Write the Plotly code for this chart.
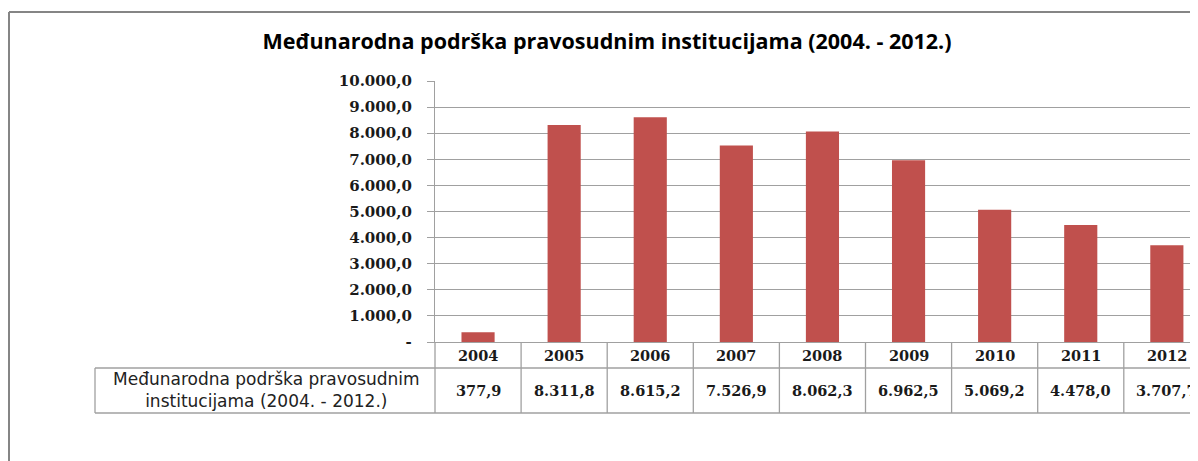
import plotly.graph_objects as go

years = ["2004", "2005", "2006", "2007", "2008", "2009", "2010", "2011", "2012"]
values = [377.9, 8311.8, 8615.2, 7526.9, 8062.3, 6962.5, 5069.2, 4478.0, 3707.7]
tick_vals = [0, 1000, 2000, 3000, 4000, 5000, 6000, 7000, 8000, 9000, 10000]
tick_text = ["-", "1.000,0", "2.000,0", "3.000,0", "4.000,0", "5.000,0",
             "6.000,0", "7.000,0", "8.000,0", "9.000,0", "10.000,0"]
title_text = "Međunarodna podrška pravosudnim institucijama (2004. - 2012.)"
series_label = "Međunarodna podrška pravosudnim<br>institucijama (2004. - 2012.)"


def hr_fmt(v):
    s = f"{v:,.1f}"
    return s.replace(",", "X").replace(".", ",").replace("X", ".")


# page body has an 8px margin: the figure starts at (8, 8) in the window
OFF = 8
W, H = 1198 - OFF, 461 - OFF
L = 435 - OFF          # plot left (window px 435)
T = 81 - OFF           # plot top  (window px 81)
Y0 = 342 - OFF         # zero line (window px 342)
B = H - Y0
PW = W - L
PH = Y0 - T


def px(x):
    """window pixel x -> paper x"""
    return (x - OFF - L) / PW


def py(y):
    """window pixel y -> paper y"""
    return (Y0 - (y - OFF)) / PH


GRID = "#A0A0A0"
NUMFONT = dict(family="DejaVu Serif", size=14.5, color="#1a1a1a", weight="bold")

fig = go.Figure()
fig.add_trace(go.Bar(x=list(range(len(years))), y=values,
                     marker=dict(color="#C0504D", line=dict(width=0)),
                     showlegend=False, hoverinfo="skip"))

shapes = []
# outer border
shapes.append(dict(type="line", xref="paper", yref="paper", x0=px(9), x1=px(1210),
                   y0=py(12), y1=py(12), line=dict(color="#858585", width=2)))
shapes.append(dict(type="line", xref="paper", yref="paper", x0=px(9), x1=px(9),
                   y0=py(12), y1=py(470), line=dict(color="#858585", width=2)))
# table horizontal lines
for yy in (368, 413):
    shapes.append(dict(type="line", xref="paper", yref="paper", x0=px(95), x1=1.02,
                       y0=py(yy), y1=py(yy), line=dict(color=GRID, width=1.3)))
# label cell left edge
shapes.append(dict(type="line", xref="paper", yref="paper", x0=px(95), x1=px(95),
                   y0=py(368), y1=py(413), line=dict(color=GRID, width=1.3)))
# y-axis extension down through table
shapes.append(dict(type="line", xref="paper", yref="paper", x0=0, x1=0,
                   y0=0, y1=py(413), line=dict(color=GRID, width=1.3)))
# column boundaries
for i in range(len(years)):
    shapes.append(dict(type="line", xref="x", yref="paper", x0=i + 0.5, x1=i + 0.5,
                       y0=0, y1=py(413), line=dict(color=GRID, width=1.3)))

annotations = []
for i, (yr, v) in enumerate(zip(years, values)):
    annotations.append(dict(x=i, xref="x", y=py(355), yref="paper", text=yr,
                            showarrow=False, font=NUMFONT, xanchor="center", yanchor="middle"))
    annotations.append(dict(x=i, xref="x", y=py(390), yref="paper", text=hr_fmt(v),
                            showarrow=False, font=NUMFONT, xanchor="center", yanchor="middle"))
annotations.append(dict(x=px(266), xref="paper", y=py(390), yref="paper", text=series_label,
                        showarrow=False, xanchor="center", yanchor="middle",
                        font=dict(family="DejaVu Sans", size=17, color="#222222")))

fig.update_layout(
    width=W, height=H,
    margin=dict(l=L, r=0, t=T, b=B, pad=0),
    paper_bgcolor="white", plot_bgcolor="white",
    bargap=0.615,
    title=dict(text=title_text, x=(607 - OFF) / W, y=1 - (41 - OFF) / H,
               xref="container", yref="container",
               xanchor="center", yanchor="middle",
               font=dict(family="Open Sans", size=21.5, color="#000000", weight="bold")),
    xaxis=dict(range=[-0.5, -0.5 + PW / 86.1], showticklabels=False, ticks="",
               showgrid=False, zeroline=False, showline=True, linecolor=GRID, linewidth=1.3),
    yaxis=dict(range=[0, 10000], tickvals=tick_vals, ticktext=tick_text,
               showgrid=True, gridcolor=GRID, gridwidth=1.3, zeroline=False,
               showline=True, linecolor=GRID, linewidth=1.3,
               ticks="outside", ticklen=7, tickcolor=GRID, tickwidth=1.3,
               ticklabelstandoff=12,
               tickfont=dict(family="DejaVu Serif", size=15, color="#1a1a1a", weight="bold")),
    shapes=shapes,
    annotations=annotations,
)

fig.write_html("out.html")
